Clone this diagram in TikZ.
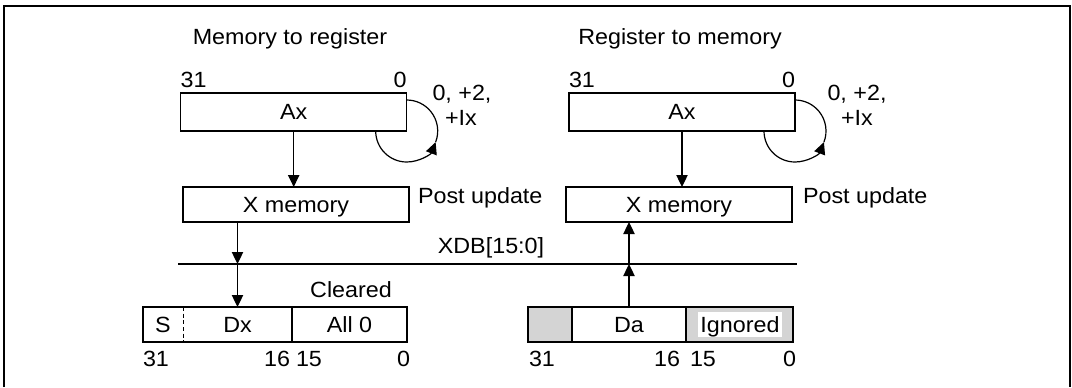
\documentclass[tikz,border=0pt]{standalone}
\usepackage{fontspec}
\setmainfont[FakeStretch=1.06]{Liberation Sans}
\usetikzlibrary{arrows.meta,positioning}
\definecolor{regGray}{RGB}{212,212,212}

\begin{document}
\begin{tikzpicture}[x=0.75pt, y=-0.75pt,
  every node/.style={font=\fontsize{16.5}{19}\selectfont, inner sep=0pt, outer sep=0pt},
  box/.style={draw, line width=0.9pt, minimum width=169.5pt, minimum height=26.25pt, text depth=0pt},
  field/.style={minimum height=26.25pt, text depth=0pt},
  arr/.style={-{Triangle[length=9pt,width=8.5pt]}, line width=0.9pt},
  bus/.style={line width=2.2pt}]

\useasboundingbox (0,0) rectangle (1072,387);
\draw[line width=1.5pt] (4,387) -- (4,6) -- (1070,6) -- (1070,387);

% memory to register
\node (titleL) [anchor=base] at (290,44) {Memory to register};
\node (axL) [box, minimum height=28.5pt] at (293.7,112) {Ax};
\node (axLhi) [anchor=base west] at ([yshift=4.5pt]axL.north west) {31};
\node (axLlo) [anchor=base east] at ([yshift=4.5pt]axL.north east) {0};
\coordinate (loopL) at ([xshift=-23.25pt]axL.south east);
\draw[arr] (loopL) arc[start angle=180, end angle=21, radius=31] coordinate (loopLm);
\draw[line width=0.9pt] (loopLm) arc[start angle=21, end angle=-90, radius=31];
\node (incL1) [anchor=base] at (462,100) {0, +2,};
\node (incL2) [anchor=base] at (461,125) {+Ix};
\node (xmemL) [box] at (296,204.5) {X memory};
\node (postL) [anchor=base west] at (418,203) {Post update};
\draw[arr] (axL.south) -- (axL.south |- xmemL.north);

% data bus
\coordinate (busW) at (178,264);
\coordinate (busE) at (797,264);
\draw[bus] (busW) -- (busE);
\node (xdb) [anchor=base] at (491,253) {XDB[15:0]};

% destination register
\node (sL) [field, minimum width=30pt] at (163,324.5) {S};
\node (dx) [field, minimum width=81.75pt, right=0pt of sL] {Dx};
\node (allz) [field, minimum width=86.25pt, right=0pt of dx] {All 0};
\draw[line width=0.9pt] (sL.north west) rectangle (allz.south east);
\draw[line width=0.6pt, dash pattern=on 3pt off 2pt] (sL.north east) -- (sL.south east);
\draw[line width=0.9pt] (dx.north east) -- (dx.south east);
\node (clr) [anchor=base] at (351,297) {Cleared};
\node (dxb31) [anchor=base west] at (143,366) {31};
\node (dxb16) [anchor=base east] at (290,366) {16};
\node (dxb15) [anchor=base west] at (296,366) {15};
\node (dxb0) [anchor=base east] at (410,366) {0};

\coordinate (tapL) at (busW -| dx);
\draw[arr] (xmemL.south -| dx) -- (tapL);
\draw[arr] (tapL) -- (dx.north);

% register to memory
\node (titleR) [anchor=base] at (680,44) {Register to memory};
\node (axR) [box, minimum height=28.5pt] at (682,112) {Ax};
\node (axRhi) [anchor=base west] at ([yshift=4.5pt]axR.north west) {31};
\node (axRlo) [anchor=base east] at ([yshift=4.5pt]axR.north east) {0};
\coordinate (loopR) at ([xshift=-23.25pt]axR.south east);
\draw[arr] (loopR) arc[start angle=180, end angle=21, radius=31] coordinate (loopRm);
\draw[line width=0.9pt] (loopRm) arc[start angle=21, end angle=-90, radius=31];
\node (incR1) [anchor=base] at (857,100) {0, +2,};
\node (incR2) [anchor=base] at (857,125) {+Ix};
\node (xmemR) [box] at (679,204.5) {X memory};
\node (postR) [anchor=base west] at (803,203) {Post update};
\draw[arr] (axR.south) -- (axR.south |- xmemR.north);

% source register
\node (pad) [field, fill=regGray, minimum width=33pt] at (550,324.5) {};
\node (da) [field, minimum width=85.5pt, right=0pt of pad] {Da};
\node (ign) [field, fill=regGray, minimum width=80.25pt, right=0pt of da] {};
\node (ignTxt) [fill=white, minimum width=63pt, minimum height=18.75pt, text depth=0pt] at (740,324.5) {Ignored};
\draw[line width=0.9pt] (pad.north west) rectangle (ign.south east);
\draw[line width=0.9pt] (pad.north east) -- (pad.south east);
\draw[line width=0.9pt] (da.north east) -- (da.south east);
\node (dab31) [anchor=base west] at (529,366) {31};
\node (dab16) [anchor=base east] at (680,366) {16};
\node (dab15) [anchor=base west] at (690,366) {15};
\node (dab0) [anchor=base east] at (796,366) {0};

\coordinate (tapR) at (busW -| da);
\draw[arr] (da.north) -- (tapR);
\draw[arr] (tapR) -- (xmemR.south -| da);

\end{tikzpicture}
\end{document}
